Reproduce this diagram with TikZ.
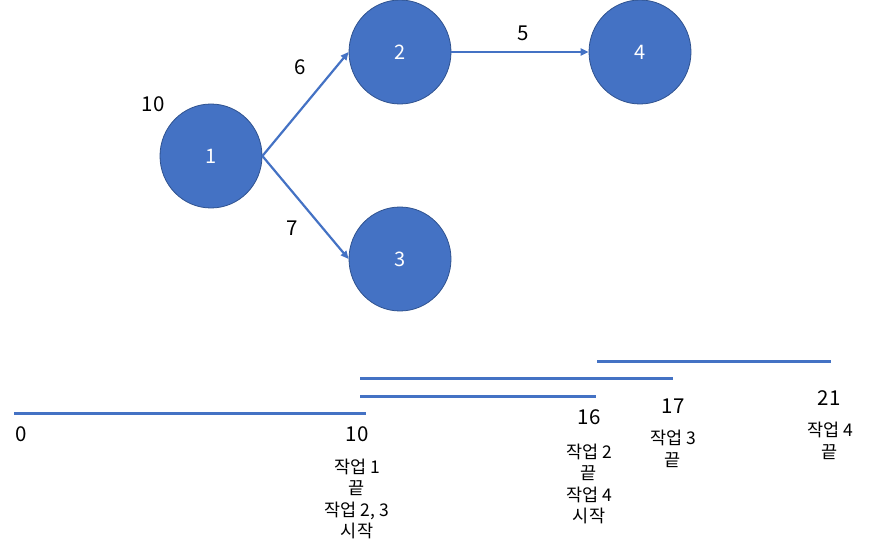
\documentclass[tikz,border=0pt]{standalone}
\usepackage{fontspec}
\setmainfont{Noto Sans CJK KR}
\usepackage{xcolor}
\usetikzlibrary{arrows.meta,positioning,shapes.geometric}
\definecolor{nodeblue}{HTML}{4472C4}
\definecolor{nodeedge}{HTML}{2F528F}

\begin{document}
\begin{tikzpicture}[x=1pt,y=-1pt,
  task/.style={ellipse,draw=nodeedge,line width=0.8pt,fill=nodeblue,text=white,minimum width=102pt,minimum height=104pt,inner sep=0pt,font=\fontsize{20}{24}\selectfont},
  arrow/.style={-{Triangle[length=8pt,width=7pt]},draw=nodeblue,line width=2.2pt},
  bar/.style={draw=nodeblue,line width=3pt},
  num/.style={font=\fontsize{20.5}{24}\selectfont},
  note/.style={align=center,inner sep=0pt,font=\fontsize{17.5}{21.5}\selectfont}]
  \useasboundingbox (0,0) rectangle (871,556);
  % network
  \node[task] (n1) at (211,156) {1};
  \node[task] (n2) at (400,52) {2};
  \node[task] (n3) at (400,259) {3};
  \node[task] (n4) at (640,52) {4};
  \node[num] (d1) at (153,104) {10};
  \draw[arrow] (n1.east) -- (n2.west);
  \draw[arrow] (n1.east) -- (n3.west);
  \draw[arrow] (n2.east) -- (n4.west);
  \node[num] (w12) at (300,67) {6};
  \node[num] (w13) at (292,228) {7};
  \node[num] (w24) at (523,33) {5};
  % time line
  \coordinate (a0) at (14,413);  \coordinate (a1) at (366,413);
  \coordinate (b0) at (360,396); \coordinate (b1) at (596,396);
  \coordinate (c0) at (360,378); \coordinate (c1) at (673,378);
  \coordinate (e0) at (597,362); \coordinate (e1) at (831,362);
  \draw[bar] (a0) -- (a1);
  \draw[bar] (b0) -- (b1);
  \draw[bar] (c0) -- (c1);
  \draw[bar] (e0) -- (e1);
  \node[num] (t0) at (21,434) {0};
  \node[num] (t10) at (357,434) {10};
  \node[num] (t16) at (589,417) {16};
  \node[num] (t17) at (673,406) {17};
  \node[num] (t21) at (829,398) {21};
  \node[note] (m10) at (357,499) {작업 1\\끝\\작업 2, 3\\시작};
  \node[note] (m16) at (589,484) {작업 2\\끝\\작업 4\\시작};
  \node[note] (m17) at (673,449) {작업 3\\끝};
  \node[note] (m21) at (830,441) {작업 4\\끝};
\end{tikzpicture}
\end{document}
